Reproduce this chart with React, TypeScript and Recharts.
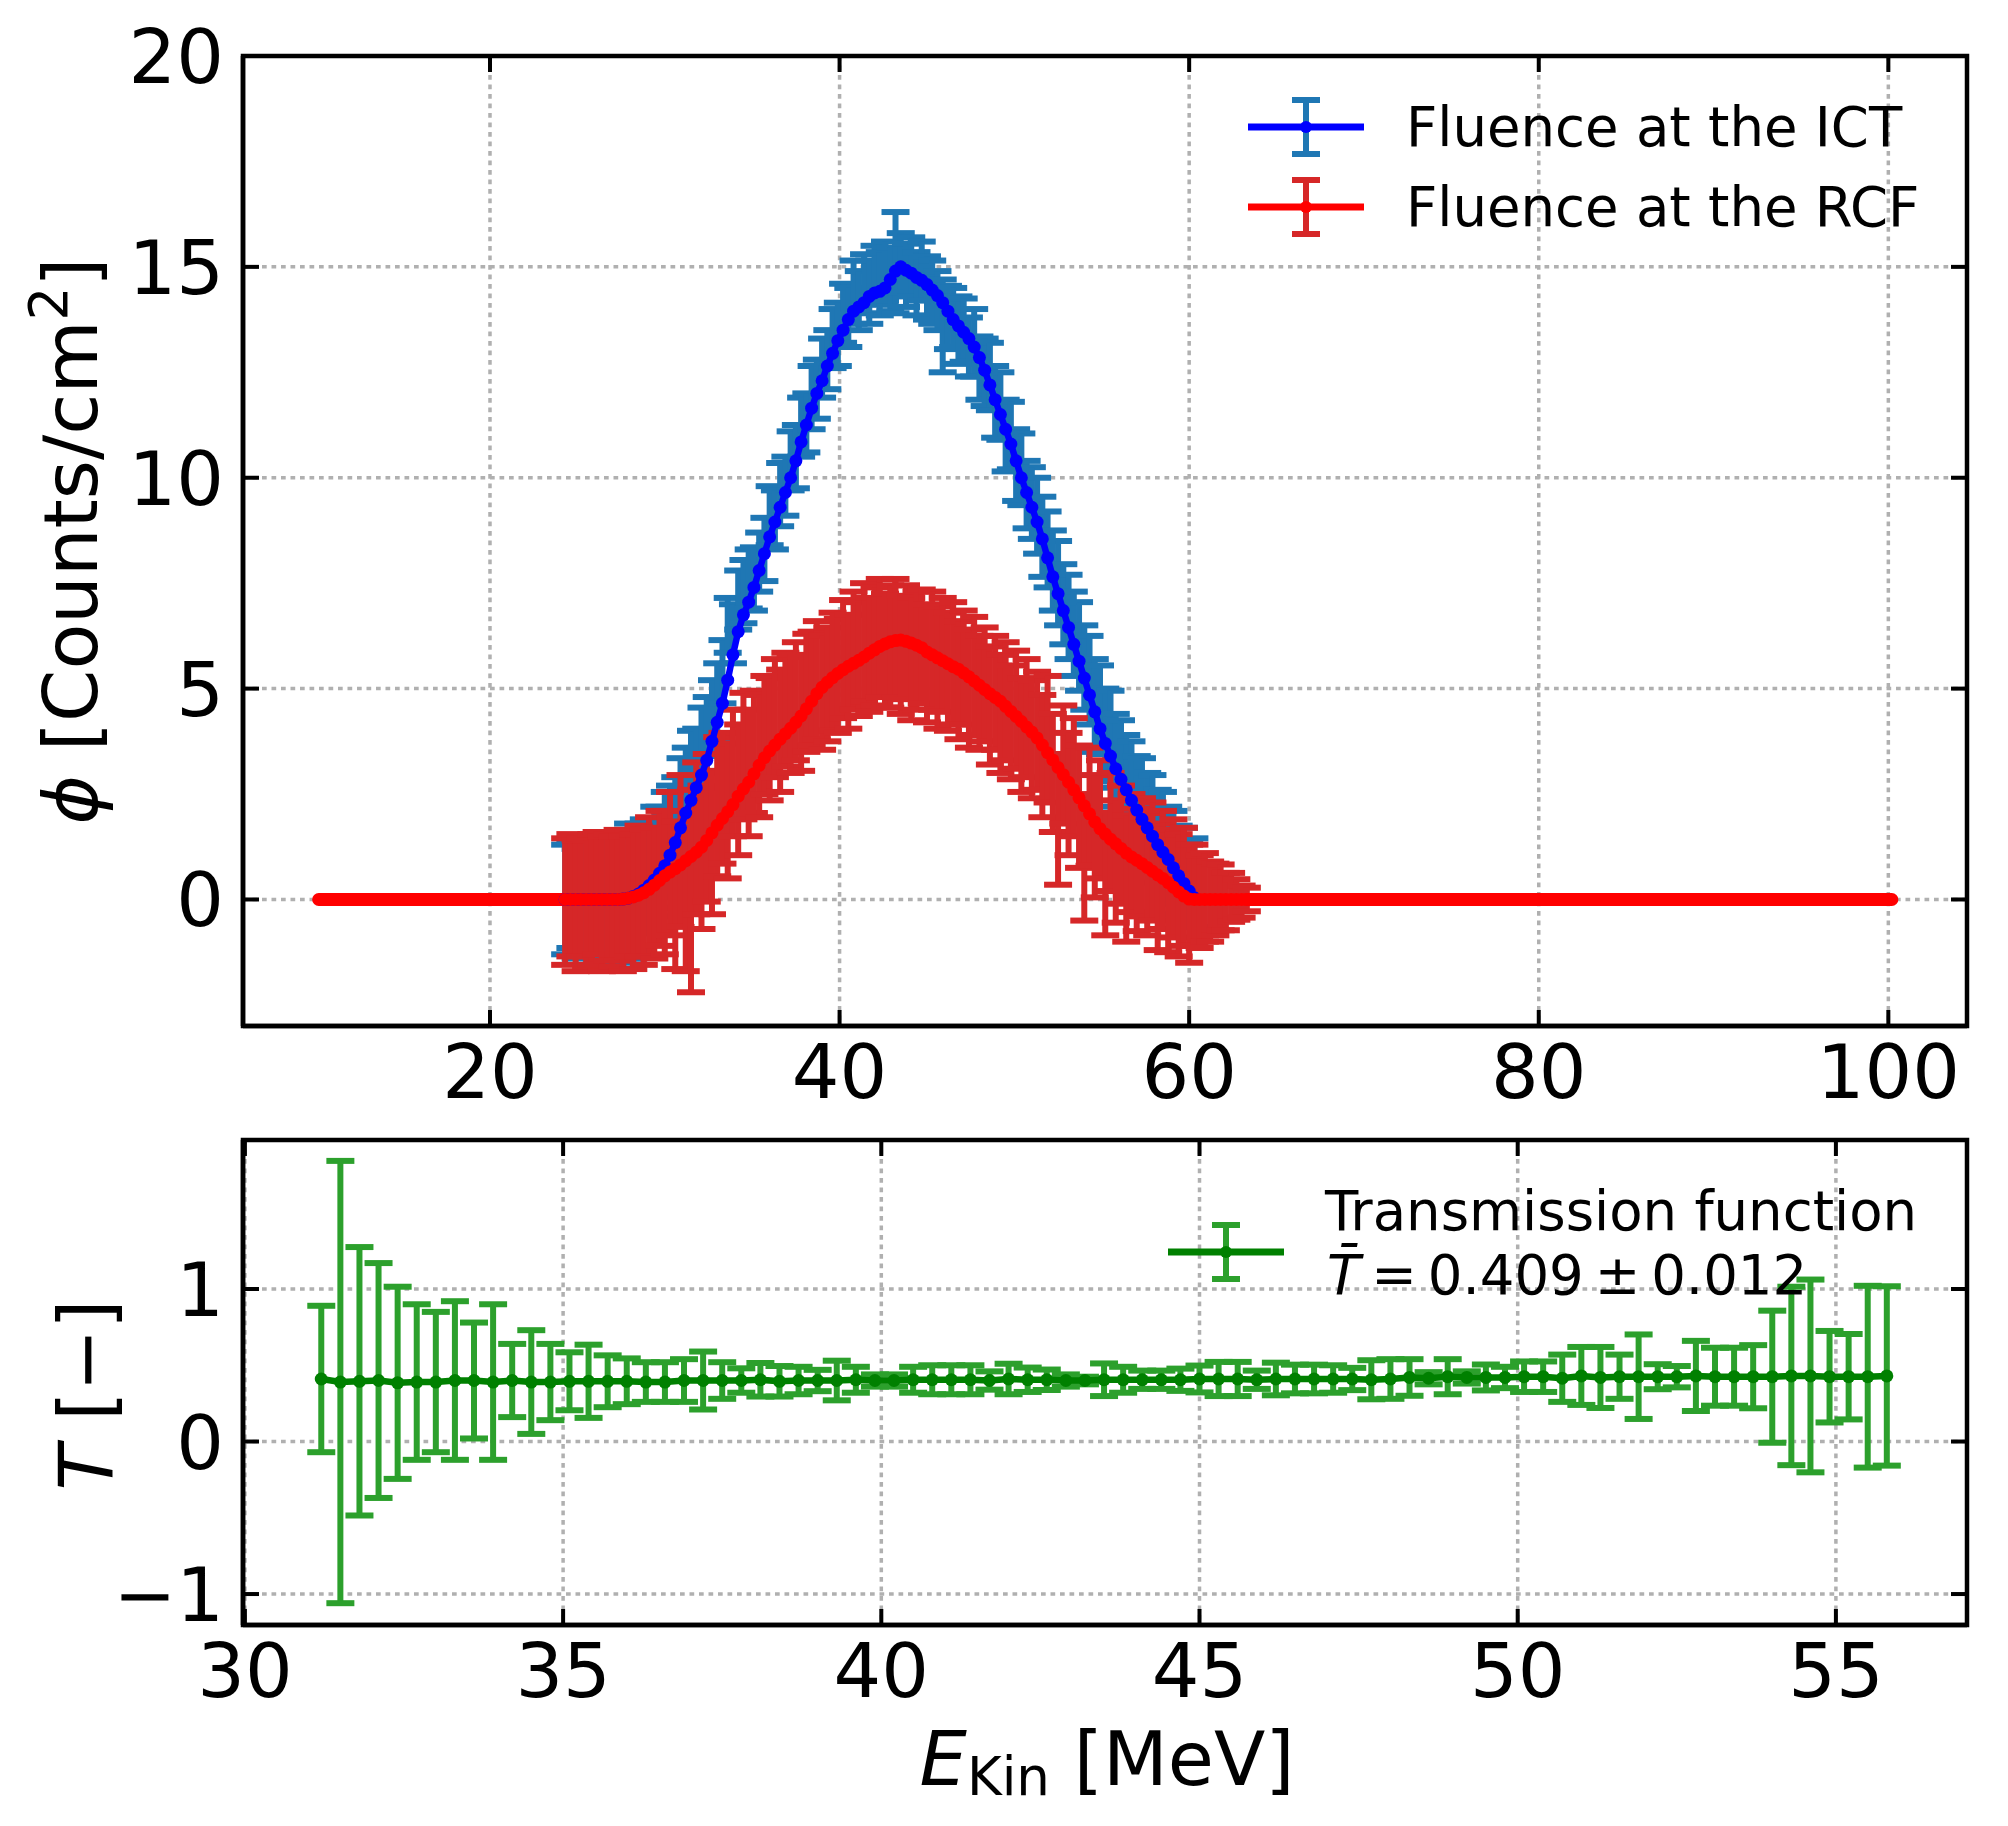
import React from "react";
import { CartesianGrid, ComposedChart, ErrorBar, Line, ReferenceArea, Scatter, XAxis, YAxis } from "recharts";

// energy grid of the fluence spectra [MeV]
const TOP_E = [
  24.3, 24.6, 24.9, 25.2, 25.5, 25.8, 26.1, 26.4, 26.7, 27.0,
  27.3, 27.6, 27.9, 28.2, 28.5, 28.8, 29.1, 29.4, 29.7, 30.0,
  30.3, 30.6, 30.9, 31.2, 31.5, 31.8, 32.1, 32.4, 32.7, 33.0,
  33.3, 33.6, 33.9, 34.2, 34.5, 34.8, 35.1, 35.4, 35.7, 36.0,
  36.3, 36.6, 36.9, 37.2, 37.5, 37.8, 38.1, 38.4, 38.7, 39.0,
  39.3, 39.6, 39.9, 40.2, 40.5, 40.8, 41.1, 41.4, 41.7, 42.0,
  42.3, 42.6, 42.9, 43.2, 43.5, 43.8, 44.1, 44.4, 44.7, 45.0,
  45.3, 45.6, 45.9, 46.2, 46.5, 46.8, 47.1, 47.4, 47.7, 48.0,
  48.3, 48.6, 48.9, 49.2, 49.5, 49.8, 50.1, 50.4, 50.7, 51.0,
  51.3, 51.6, 51.9, 52.2, 52.5, 52.8, 53.1, 53.4, 53.7, 54.0,
  54.3, 54.6, 54.9, 55.2, 55.5, 55.8, 56.1, 56.4, 56.7, 57.0,
  57.3, 57.6, 57.9, 58.2, 58.5, 58.8, 59.1, 59.4, 59.7, 60.0,
  60.3, 60.6, 60.9, 61.2, 61.5, 61.8, 62.1, 62.4, 62.7, 63.0, 63.3,
];

// smoothed fluence at the ICT (blue line)
const ICT_LINE = [
  0, 0, 0, 0, 0, 0, 0, 0, 0, 0,
  0.0, 0.01, 0.03, 0.07, 0.13, 0.22, 0.33, 0.46, 0.62, 0.8,
  1.05, 1.35, 1.7, 2.05, 2.35, 2.65, 2.95, 3.3, 3.75, 4.2,
  4.65, 5.2, 5.8, 6.35, 6.75, 7.05, 7.4, 7.8, 8.2, 8.6,
  8.95, 9.3, 9.65, 10.0, 10.4, 10.85, 11.25, 11.65, 12.0, 12.3,
  12.65, 12.95, 13.25, 13.5, 13.75, 13.95, 14.05, 14.15, 14.3, 14.38,
  14.42, 14.5, 14.7, 14.9, 15.0, 14.92, 14.85, 14.75, 14.68, 14.58,
  14.45, 14.32, 14.15, 13.95, 13.75, 13.6, 13.45, 13.3, 13.1, 12.85,
  12.55, 12.2, 11.85, 11.5, 11.15, 10.8, 10.4, 10.0, 9.65, 9.3,
  8.95, 8.55, 8.1, 7.65, 7.25, 6.85, 6.45, 6.05, 5.65, 5.25,
  4.85, 4.45, 4.05, 3.7, 3.4, 3.1, 2.85, 2.6, 2.35, 2.12,
  1.9, 1.7, 1.5, 1.3, 1.12, 0.95, 0.75, 0.56, 0.38, 0.2,
  0.04,
];

// measured fluence at the ICT with uncertainty (blue error bars)
const ICT_MEAS = [
  0.0, 0.1, -0.1, 0.05, -0.05, 0.1, -0.1, 0.0, -0.15, 0.05,
  0.0, -0.1, 0.2, 0.1, 0.3, 0.6, 0.4, 0.9, 1.0, 1.3,
  1.6, 1.9, 2.3, 2.6, 3.0, 3.1, 3.6, 3.9, 4.3, 4.7,
  5.4, 6.5, 6.3, 7.1, 7.3, 7.6, 7.6, 8.0, 8.3, 9.1,
  9.0, 9.6, 9.8, 10.4, 10.5, 11.2, 11.3, 11.9, 12.1, 12.6,
  12.8, 13.3, 13.4, 13.9, 13.8, 14.4, 14.2, 14.6, 14.4, 14.8,
  14.6, 14.9, 14.7, 15.1, 15.1, 14.8, 15.0, 14.6, 14.9, 14.5,
  14.4, 14.2, 13.6, 13.8, 13.8, 13.5, 13.5, 13.1, 13.2, 12.6,
  12.5, 12.4, 11.8, 11.7, 11.0, 11.0, 10.3, 10.2, 9.6, 9.4,
  9.1, 8.6, 8.3, 7.8, 7.5, 7.0, 6.7, 6.3, 6.0, 5.5,
  5.2, 4.6, 4.5, 3.9, 3.8, 3.3, 3.1, 2.8, 2.6, 2.3,
  2.2, 1.9, 1.8, 1.5, 1.4, 1.1, 1.0, 0.7, 0.6, 0.35,
  0.4,
];
const ICT_ERR = [
  1.3, 1.25, 1.3, 1.35, 1.3, 1.25, 1.3, 1.35, 1.4, 1.3,
  1.5, 1.55, 1.6, 1.5, 1.5, 1.3, 1.2, 1.3, 1.2, 1.25,
  1.1, 1.0, 1.05, 1.0, 1.0, 0.95, 0.95, 0.9, 0.9, 0.9,
  0.75, 0.65, 0.7, 0.7, 0.75, 0.7, 0.75, 0.7, 0.75, 0.7,
  0.7, 0.75, 0.7, 0.7, 0.75, 0.7, 0.7, 0.75, 0.7, 0.7,
  0.7, 0.7, 0.75, 0.7, 0.7, 0.75, 0.7, 0.7, 0.75, 0.7,
  0.75, 0.7, 0.75, 1.2, 0.7, 0.75, 0.7, 0.75, 0.7, 0.75,
  0.75, 0.7, 1.1, 0.75, 0.7, 0.8, 0.75, 0.7, 0.8, 0.75,
  0.8, 0.8, 0.85, 0.8, 0.85, 0.8, 0.85, 0.85, 0.8, 0.85,
  0.9, 0.95, 0.9, 0.95, 1.0, 0.95, 1.0, 1.0, 1.05, 1.0,
  1.05, 1.1, 1.05, 1.1, 1.15, 1.1, 1.15, 1.1, 1.15, 1.1,
  1.15, 1.1, 1.15, 1.1, 1.15, 1.1, 1.1, 1.05, 1.1, 1.0,
  1.05,
];

// smoothed fluence at the RCF (red line)
const RCF_LINE = [
  0, 0, 0, 0, 0, 0, 0, 0, 0, 0,
  0.0, 0.01, 0.03, 0.06, 0.1, 0.16, 0.24, 0.34, 0.45, 0.56,
  0.65, 0.73, 0.82, 0.92, 1.02, 1.12, 1.24, 1.4, 1.58, 1.76,
  1.92, 2.08, 2.25, 2.45, 2.62, 2.78, 2.98, 3.18, 3.36, 3.52,
  3.66, 3.8, 3.93, 4.06, 4.2, 4.35, 4.52, 4.7, 4.88, 5.03,
  5.15, 5.26, 5.36, 5.45, 5.53, 5.6, 5.67, 5.75, 5.84, 5.92,
  6.0, 6.06, 6.11, 6.14, 6.15, 6.12, 6.08, 6.03, 5.97, 5.87,
  5.8, 5.73, 5.66, 5.59, 5.52, 5.46, 5.37, 5.28, 5.18, 5.08,
  4.98, 4.88, 4.79, 4.7, 4.58, 4.46, 4.34, 4.22, 4.09, 3.97,
  3.83, 3.66, 3.48, 3.31, 3.13, 2.96, 2.78, 2.6, 2.41, 2.22,
  2.03, 1.84, 1.68, 1.55, 1.43, 1.32, 1.21, 1.1, 1.01, 0.93,
  0.85, 0.76, 0.67, 0.58, 0.5, 0.4, 0.29, 0.18, 0.08, 0.01,
  0, 0, 0, 0, 0, 0, 0, 0, 0, 0, 0,
];

// measured fluence at the RCF with uncertainty (red error bars)
const RCF_MEAS = [
  -0.05, 0.1, -0.15, 0.05, -0.1, 0.0, 0.15, -0.1, 0.05, -0.05,
  0.1, -0.1, 0.15, -0.05, 0.2, 0.05, 0.3, 0.15, 0.5, 0.4,
  0.85, 0.1, 1.15, 0.0, 0.2, 1.45, 1.0, 1.7, 1.35, 2.2,
  2.4, 2.1, 3.0, 2.6, 3.4, 3.0, 3.5, 3.4, 3.9, 3.8,
  4.3, 4.0, 4.5, 4.4, 4.7, 4.4, 4.9, 5.0, 5.2, 4.9,
  5.1, 5.4, 5.3, 5.7, 5.4, 5.9, 5.7, 6.1, 5.8, 6.0,
  6.2, 5.9, 6.0, 6.2, 5.8, 6.1, 5.7, 5.9, 6.0, 5.6,
  5.9, 5.5, 5.8, 5.4, 5.6, 5.2, 5.5, 5.0, 5.3, 4.9,
  5.1, 4.6, 4.9, 4.4, 4.7, 4.2, 4.5, 3.9, 4.3, 3.8,
  4.0, 3.4, 3.8, 3.0, 1.9, 3.2, 2.5, 2.9, 2.2, 1.0,
  2.2, 1.5, 1.9, 0.6, 1.6, 0.9, 1.3, 0.5, 1.1, 0.7,
  1.0, 0.6, 0.9, 0.3, 0.7, 0.2, 0.5, 0.1, 0.3, -0.1,
  0.1, -0.05, 0.05, -0.05, 0.0, 0.05, -0.05, 0.05, 0.0, -0.05, 0.0,
];
const RCF_ERR = [
  1.5, 1.45, 1.55, 1.4, 1.5, 1.55, 1.45, 1.6, 1.5, 1.55,
  1.55, 1.6, 1.5, 1.6, 1.55, 1.6, 1.65, 1.55, 1.6, 1.7,
  1.7, 1.75, 1.8, 1.7, 2.4, 1.8, 1.7, 1.75, 1.7, 1.65,
  1.55, 1.6, 1.5, 1.55, 1.5, 1.5, 1.45, 1.45, 1.4, 1.45,
  1.4, 1.45, 1.35, 1.4, 1.4, 1.35, 1.4, 1.35, 1.4, 1.35,
  1.35, 1.4, 1.35, 1.4, 1.35, 1.4, 1.35, 1.4, 1.35, 1.4,
  1.4, 1.35, 1.45, 1.4, 1.4, 1.35, 1.45, 1.4, 1.35, 1.4,
  1.4, 1.45, 1.35, 1.4, 1.45, 1.4, 1.35, 1.4, 1.4, 1.35,
  1.35, 1.4, 1.35, 1.4, 1.4, 1.35, 1.4, 1.35, 1.4, 1.4,
  1.4, 1.45, 1.5, 1.4, 1.55, 1.4, 1.45, 1.4, 1.45, 1.5,
  1.4, 1.45, 1.4, 1.45, 1.4, 1.45, 1.4, 1.5, 1.4, 1.45,
  1.4, 1.45, 1.4, 1.5, 1.4, 1.45, 1.4, 1.45, 1.4, 1.4,
  1.2, 1.1, 1.05, 0.95, 0.85, 0.78, 0.68, 0.58, 0.48, 0.38, 0.28,
];

// zero fluence outside the measured range (red line continues flat)
const RCF_TAIL_LOW_E = [10.2, 24.3];
const RCF_TAIL_HIGH_E = [63.3, 100.2];
const RCF_TAIL_VALUE = [0, 0];

// transmission function T = RCF / ICT
const T_E = [
  31.2, 31.5, 31.8, 32.1, 32.4, 32.7, 33.0, 33.3, 33.6, 33.9,
  34.2, 34.5, 34.8, 35.1, 35.4, 35.7, 36.0, 36.3, 36.6, 36.9,
  37.2, 37.5, 37.8, 38.1, 38.4, 38.7, 39.0, 39.3, 39.6, 39.9,
  40.2, 40.5, 40.8, 41.1, 41.4, 41.7, 42.0, 42.3, 42.6, 42.9,
  43.2, 43.5, 43.8, 44.1, 44.4, 44.7, 45.0, 45.3, 45.6, 45.9,
  46.2, 46.5, 46.8, 47.1, 47.4, 47.7, 48.0, 48.3, 48.6, 48.9,
  49.2, 49.5, 49.8, 50.1, 50.4, 50.7, 51.0, 51.3, 51.6, 51.9,
  52.2, 52.5, 52.8, 53.1, 53.4, 53.7, 54.0, 54.3, 54.6, 54.9,
  55.2, 55.5, 55.8,
];
const T_VAL = [
  0.41, 0.39, 0.395, 0.4, 0.385, 0.39, 0.39, 0.4, 0.4, 0.39,
  0.4, 0.39, 0.39, 0.395, 0.395, 0.395, 0.395, 0.39, 0.39, 0.4,
  0.4, 0.4, 0.4, 0.405, 0.395, 0.4, 0.4, 0.4, 0.405, 0.4,
  0.4, 0.405, 0.405, 0.405, 0.405, 0.4, 0.41, 0.405, 0.405, 0.4,
  0.4, 0.405, 0.405, 0.405, 0.405, 0.405, 0.41, 0.41, 0.41, 0.405,
  0.41, 0.41, 0.41, 0.41, 0.41, 0.405, 0.41, 0.42, 0.415, 0.425,
  0.42, 0.42, 0.42, 0.425, 0.425, 0.415, 0.43, 0.42, 0.425, 0.425,
  0.425, 0.425, 0.43, 0.425, 0.425, 0.425, 0.425, 0.43, 0.43, 0.425,
  0.425, 0.425, 0.43,
];
const T_ERR = [
  0.48, 1.45, 0.88, 0.77, 0.63, 0.51, 0.46, 0.52, 0.38, 0.51,
  0.24, 0.34, 0.25, 0.19, 0.24, 0.17, 0.15, 0.13, 0.13, 0.14,
  0.19, 0.12, 0.08, 0.11, 0.1, 0.09, 0.07, 0.13, 0.085, 0.04,
  0.04, 0.085, 0.095, 0.095, 0.095, 0.06, 0.1, 0.08, 0.067, 0.04,
  0.025, 0.107, 0.085, 0.06, 0.06, 0.073, 0.088, 0.112, 0.112, 0.06,
  0.107, 0.094, 0.094, 0.09, 0.073, 0.128, 0.13, 0.12, 0.04, 0.115,
  0.04, 0.085, 0.07, 0.1, 0.1, 0.155, 0.19, 0.2, 0.145, 0.277,
  0.082, 0.07, 0.23, 0.19, 0.19, 0.207, 0.433, 0.585, 0.632, 0.3,
  0.28, 0.596, 0.588,
];

const TOP_X_TICKS = [20, 40, 60, 80, 100];
const TOP_Y_TICKS = [0, 5, 10, 15, 20];
const BOT_X_TICKS = [30, 35, 40, 45, 50, 55];
const BOT_Y_TICKS = [-1, 0, 1];

const FONT = "DejaVu Sans";
const W = 2008;
const PLOT_L = 243;
const PLOT_R = 1967;
const TOP_H = 1120;
const TOP_T = 56;
const BOT_H = 706;
const BOT_T = 20;

const pts = (xs: number[], ys: (number | null)[], es?: number[]) =>
  ys.map((y, i) => ({ x: xs[i], y, e: es ? es[i] : 0 }));

const ictLine = pts(TOP_E, ICT_LINE);
const ictErr = pts(TOP_E, ICT_MEAS, ICT_ERR);
const rcfLine = pts(TOP_E, RCF_LINE);
const rcfErr = pts(TOP_E, RCF_MEAS, RCF_ERR);
const tailLow = pts(RCF_TAIL_LOW_E, RCF_TAIL_VALUE);
const tailHigh = pts(RCF_TAIL_HIGH_E, RCF_TAIL_VALUE);
const tLine = pts(T_E, T_VAL, T_ERR);

const fmt = (v: number) => (v < 0 ? "\u2212" + Math.abs(v) : String(v));

const xTick = (topY: number) => (props: any) => {
  const { x, y, payload } = props;
  return (
    <g>
      <line x1={x} x2={x} y1={y} y2={y - 16} stroke="#000" strokeWidth={4} />
      <line x1={x} x2={x} y1={topY} y2={topY + 16} stroke="#000" strokeWidth={4} />
      <text x={x} y={y + 72} textAnchor="middle" fontFamily={FONT} fontSize={75} fill="#000">
        {fmt(payload.value)}
      </text>
    </g>
  );
};

const yTick = (props: any) => {
  const { x, y, payload } = props;
  return (
    <g>
      <line x1={x} x2={x + 16} y1={y} y2={y} stroke="#000" strokeWidth={4} />
      <line x1={PLOT_R - 16} x2={PLOT_R} y1={y} y2={y} stroke="#000" strokeWidth={4} />
      <text x={x - 19} y={y + 27} textAnchor="end" fontFamily={FONT} fontSize={75} fill="#000">
        {fmt(payload.value)}
      </text>
    </g>
  );
};

const noDot = () => <g />;
const spine = { stroke: "#000", strokeWidth: 4.5 };
const grid = { stroke: "#b0b0b0", strokeDasharray: "4.7 4.8", strokeWidth: 3.5 };

function FluenceChart() {
  const xDom = [5.87, 104.5];
  const yDom = [-3, 20];
  return (
    <ComposedChart
      width={W}
      height={TOP_H}
      margin={{ top: TOP_T, right: W - PLOT_R, left: 0, bottom: 0 }}
    >
      <CartesianGrid {...grid} />
      <XAxis
        type="number"
        dataKey="x"
        domain={xDom}
        ticks={TOP_X_TICKS}
        interval={0}
        allowDataOverflow
        height={TOP_H - 1026}
        tickSize={0}
        tickMargin={0}
        tickLine={false}
        axisLine={spine}
        tick={xTick(TOP_T)}
      />
      <YAxis
        type="number"
        dataKey="y"
        domain={yDom}
        ticks={TOP_Y_TICKS}
        interval={0}
        allowDataOverflow
        width={PLOT_L}
        tickSize={0}
        tickMargin={0}
        tickLine={false}
        axisLine={spine}
        tick={yTick}
      />
      <ReferenceArea
        x1={xDom[0]}
        x2={xDom[1]}
        y1={yDom[0]}
        y2={yDom[1]}
        fill="none"
        stroke="#000"
        strokeWidth={4.5}
        ifOverflow="visible"
      />
      <Scatter data={ictErr} dataKey="y" shape={noDot} isAnimationActive={false}>
        <ErrorBar dataKey="e" direction="y" width={14} stroke="#1f77b4" strokeWidth={6} isAnimationActive={false} />
      </Scatter>
      <Scatter data={rcfErr} dataKey="y" shape={noDot} isAnimationActive={false}>
        <ErrorBar dataKey="e" direction="y" width={14} stroke="#d62728" strokeWidth={6} isAnimationActive={false} />
      </Scatter>
      <Line
        data={ictLine}
        dataKey="y"
        stroke="#0000ff"
        strokeWidth={6.5}
        dot={{ r: 6.5, fill: "#0000ff", stroke: "none" }}
        isAnimationActive={false}
      />
      <Line
        data={rcfLine}
        dataKey="y"
        stroke="#ff0000"
        strokeWidth={6.5}
        dot={{ r: 6.5, fill: "#ff0000", stroke: "none" }}
        isAnimationActive={false}
      />
      <Line data={tailLow} dataKey="y" stroke="#ff0000" strokeWidth={13} strokeLinecap="round" dot={false} isAnimationActive={false} />
      <Line data={tailHigh} dataKey="y" stroke="#ff0000" strokeWidth={13} strokeLinecap="round" dot={false} isAnimationActive={false} />
    </ComposedChart>
  );
}

function TransmissionChart() {
  const xDom = [29.97, 57.06];
  const yDom = [-1.203, 1.977];
  return (
    <ComposedChart
      width={W}
      height={BOT_H}
      margin={{ top: BOT_T, right: W - PLOT_R, left: 0, bottom: 0 }}
    >
      <CartesianGrid {...grid} />
      <XAxis
        type="number"
        dataKey="x"
        domain={xDom}
        ticks={BOT_X_TICKS}
        interval={0}
        allowDataOverflow
        height={1826 - 1625}
        tickSize={0}
        tickMargin={0}
        tickLine={false}
        axisLine={spine}
        tick={xTick(BOT_T)}
      />
      <YAxis
        type="number"
        dataKey="y"
        domain={yDom}
        ticks={BOT_Y_TICKS}
        interval={0}
        allowDataOverflow
        width={PLOT_L}
        tickSize={0}
        tickMargin={0}
        tickLine={false}
        axisLine={spine}
        tick={yTick}
      />
      <ReferenceArea
        x1={xDom[0]}
        x2={xDom[1]}
        y1={yDom[0]}
        y2={yDom[1]}
        fill="none"
        stroke="#000"
        strokeWidth={4.5}
        ifOverflow="visible"
      />
      <Scatter data={tLine} dataKey="y" shape={noDot} isAnimationActive={false}>
        <ErrorBar dataKey="e" direction="y" width={14} stroke="#2ca02c" strokeWidth={6} isAnimationActive={false} />
      </Scatter>
      <Line
        data={tLine}
        dataKey="y"
        stroke="#008000"
        strokeWidth={6.5}
        dot={{ r: 6.5, fill: "#008000", stroke: "none" }}
        isAnimationActive={false}
      />
    </ComposedChart>
  );
}

function LegendEntry({ x, y, line, err, text }: { x: number; y: number; line: string; err: string; text: React.ReactNode }) {
  const cx = x + 58;
  return (
    <g>
      <line x1={cx} x2={cx} y1={y - 27} y2={y + 27} stroke={err} strokeWidth={6} />
      <line x1={cx - 14} x2={cx + 14} y1={y - 27} y2={y - 27} stroke={err} strokeWidth={6} />
      <line x1={cx - 14} x2={cx + 14} y1={y + 27} y2={y + 27} stroke={err} strokeWidth={6} />
      <line x1={x} x2={x + 116} y1={y} y2={y} stroke={line} strokeWidth={7} />
      <circle cx={cx} cy={y} r={6} fill={line} />
      {text}
    </g>
  );
}

function Overlay() {
  return (
    <svg width={W} height={1826} style={{ position: "absolute", left: 0, top: 0, pointerEvents: "none" }}>
      <g fontFamily={FONT} fill="#000">
        <text transform="translate(97,541) rotate(-90)" textAnchor="middle" fontSize={75}>
          <tspan fontStyle="italic">ϕ</tspan> [Counts/cm
          <tspan dy={-30} fontSize={53}>2</tspan>
          <tspan dy={30}>]</tspan>
        </text>
        <text transform="translate(112,1395) rotate(-90)" textAnchor="middle" fontSize={75}>
          <tspan fontStyle="italic">T</tspan> [−]
        </text>
        <text x={1107} y={1785} textAnchor="middle" fontSize={75}>
          <tspan fontStyle="italic">E</tspan>
          <tspan dy={10} fontSize={53}>Kin</tspan>
          <tspan dy={-10}> [MeV]</tspan>
        </text>
        <LegendEntry
          x={1248}
          y={127}
          line="#0000ff"
          err="#1f77b4"
          text={<text x={1406} y={146} fontSize={54.5}>Fluence at the ICT</text>}
        />
        <LegendEntry
          x={1248}
          y={207}
          line="#ff0000"
          err="#d62728"
          text={<text x={1406} y={226} fontSize={54.5}>Fluence at the RCF</text>}
        />
        <LegendEntry
          x={1168}
          y={1252}
          line="#008000"
          err="#2ca02c"
          text={
            <g>
              <text x={1325} y={1230} fontSize={54.5}>Transmission function</text>
              <text x={1327} y={1294} fontSize={54.5}>
                <tspan fontStyle="italic">T̄</tspan>
                {"\u2009=\u20090.409\u2009±\u20090.012"}
              </text>
            </g>
          }
        />
      </g>
    </svg>
  );
}

export default function App() {
  return (
    <div style={{ position: "absolute", left: 0, top: 0, width: W, height: 1826, background: "#fff" }}>
      <div style={{ position: "absolute", left: 0, top: 0 }}>
        <FluenceChart />
      </div>
      <div style={{ position: "absolute", left: 0, top: TOP_H }}>
        <TransmissionChart />
      </div>
      <Overlay />
    </div>
  );
}
